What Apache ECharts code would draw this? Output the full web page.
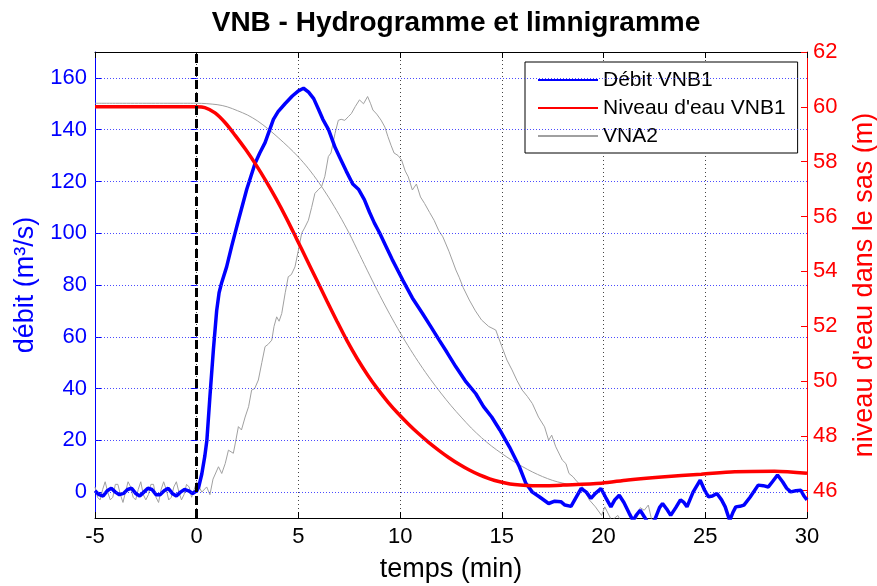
<!DOCTYPE html>
<html>
<head>
<meta charset="utf-8">
<script src="https://cdn.jsdelivr.net/npm/echarts@6/dist/echarts.min.js"></script>
<style>html,body{margin:0;padding:0;background:#fff;}#c{width:877px;height:586px;}</style>
</head>
<body>
<div id="c"></div>
<script>
// ---- Data ----
const titleText = 'VNB - Hydrogramme et limnigramme';
const xTicks = [-5, 0, 5, 10, 15, 20, 25, 30];
const leftTicks = [0, 20, 40, 60, 80, 100, 120, 140, 160];
const rightTicks = [46, 48, 50, 52, 54, 56, 58, 60, 62];
const eventTime = 0;

// Débit VNB1 (m3/s)
const debitT = [-5,-4.8,-4.6,-4.4,-4.2,-4,-3.8,-3.6,-3.4,-3.2,-3,-2.8,-2.6,-2.4,-2.2,-2,-1.8,-1.6,-1.4,-1.2,-1,-0.8,-0.6,-0.4,-0.2,0,
  0.1,0.25,0.4,0.5,0.65,0.82,0.98,1.1,1.23,1.47,1.72,2.05,2.46,2.87,3.1,3.36,3.77,4.0,4.34,4.7,5.0,5.25,5.5,5.75,5.98,6.2,6.48,6.81,7.05,7.35,7.67,7.95,8.24,8.5,8.73,9.0,9.3,9.6,10.12,10.6,11.1,11.5,11.92,12.3,12.74,13.2,13.72,14.1,14.5,14.9,15.37,15.86,16.18,16.5,16.84,17.3,17.6,17.9,18.1,18.4,18.65,18.9,19.15,19.38,19.6,19.87,20.1,20.36,20.55,20.77,21.0,21.26,21.45,21.6,21.8,22.0,22.2,22.5,22.75,22.9,23.1,23.3,23.55,23.78,23.95,24.1,24.4,24.75,24.95,25.16,25.35,25.57,25.8,25.98,26.2,26.35,26.5,26.7,26.9,27.2,27.6,27.85,28.1,28.3,28.55,28.8,29.0,29.2,29.45,29.7,29.85,30];
const debitV = [0.5,-1,-1.5,0.5,1.5,0,-1,-0.5,1,1.5,-0.5,-1.5,0,1.5,1,-1,-1,0.5,1.5,-0.5,-1.5,0,1,0.5,-0.5,0.5,
  2,7,14,20,37,55,70,77,81,87,95,105,117,127,131,135,144,147,150,153,155,156,154.5,152,148,144,140,133,129,124,119,117,113,108,104,100,95,90,82,75,69,64,58.7,54,48.4,43,38,33,29,24,17.5,9.8,3.4,0,-1.8,-4.4,-3.5,-3.7,-5,-5.5,-2,1.4,0,-2.4,-0.5,1.4,-2,-5.7,-3,-1.2,-4,-8.2,-11,-9,-7,-9.5,-12,-11,-6,-4.4,-6.5,-9,-6,-3,-4,-5.7,0,4.6,1,-1.8,-1.5,-0.5,-3,-5.7,-11,-8,-5.7,-5.5,-5,-2,2.7,2.5,2,4,6.6,4,1.5,0.1,0.5,0.7,-1.5,-3];

// Niveau d'eau VNB1 (m)
const niveauT = [-5,0,0.4,0.9,1.4,1.9,2.4,2.9,3.4,3.9,4.4,4.9,5.4,5.9,6.4,6.9,7.4,7.9,8.4,8.9,9.4,9.9,10.4,10.9,11.4,11.9,12.4,12.9,13.4,13.9,14.4,14.9,15.4,15.9,16.5,17.2,18.0,19.9,21.2,22.85,24.8,26.45,28.4,30];
const niveauV = [60,60,59.97,59.78,59.42,58.95,58.45,57.9,57.3,56.65,55.95,55.2,54.44,53.68,52.92,52.17,51.45,50.8,50.22,49.7,49.23,48.81,48.43,48.08,47.76,47.47,47.2,46.96,46.75,46.57,46.43,46.32,46.24,46.2,46.18,46.18,46.2,46.27,46.39,46.5,46.6,46.69,46.71,46.63];

// VNA2 débit (m3/s)
const vna2QT = [-5,-4.875,-4.75,-4.625,-4.5,-4.375,-4.25,-4.125,-4,-3.875,-3.75,-3.625,-3.5,-3.375,-3.25,-3.125,-3,-2.875,-2.75,-2.625,-2.5,-2.375,-2.25,-2.125,-2,-1.875,-1.75,-1.625,-1.5,-1.375,-1.25,-1.125,-1,-0.875,-0.75,-0.625,-0.5,-0.375,-0.25,-0.125,0,
  0.25,0.49,0.65,0.8,1.07,1.23,1.4,1.56,1.8,1.9,2.05,2.2,2.38,2.55,2.7,2.85,3.03,3.2,3.36,3.5,3.69,3.8,3.93,4.05,4.18,4.35,4.5,4.65,4.83,5.0,5.16,5.3,5.49,5.65,5.81,6.0,6.14,6.3,6.47,6.6,6.8,6.96,7.1,7.28,7.45,7.6,7.8,8.0,8.2,8.4,8.55,8.66,8.85,9.06,9.25,9.4,9.55,9.7,9.9,10.07,10.25,10.4,10.6,10.8,11.0,11.2,11.45,11.67,11.9,12.1,12.4,12.74,12.9,13.1,13.4,13.7,14.0,14.35,14.7,15.0,15.25,15.5,15.75,16.0,16.25,16.5,16.8,17.1,17.3,17.45,17.65,17.97,18.15,18.3,18.5,18.7,18.97,19.3,19.6,19.9,20.06,20.4,20.7,20.9,21.2,21.5,21.8,22.0,22.2,22.4,22.8,23.5,25,27,30];
const vna2Q = [2,-2,-3,1,4,0,-3,-2,3,3,-1,-4,0,4,2,-2,-3,1,4,-1,-3,-1,3,3,-2,-4,1,4,1,-3,-2,2,4,0,-3,-1,3,2,-2,1,4,
  0,2,-1,5,9.8,7.2,11,16.2,15,19,25.3,24,29,33,39.4,40,43.3,50,56.2,57,58.7,64,67.7,66,69,77,83.2,84,87,93.5,100,102,105,110,115.4,117,118,122,129.6,131,138.6,143.6,144,143.6,145,146.2,149,151.5,150,152.8,150,147.6,146,143.7,141,137.3,134,131,130,128.3,124,121.8,116.7,119,114,111.5,108,105,101,98.6,93,85.8,83,79,74.2,70,66.5,64,62.6,56.2,51,47.2,43,39.4,37,34.2,29,25.2,20,22,17.5,12.4,11,7.2,5.9,4,2,-3,-5.7,-9,-5.7,-11,-9,-12,-10.5,-13,-6,-7,-5,-12,-16,-18,-20,-19,-20];

// VNA2 niveau (m)
const vna2LT = [-5,0,1,1.5,2,2.5,3,3.5,4,4.5,5,5.5,6,6.5,7,7.5,8,8.5,9,9.5,10,10.5,11,11.5,12,12.5,13,13.5,14,14.5,15,15.5,16,16.5,17,17.5,18,18.5,19];
const vna2L = [60.13,60.13,60.08,60.0,59.86,59.7,59.48,59.2,58.88,58.54,58.17,57.74,57.24,56.68,56.06,55.38,54.62,53.86,53.12,52.42,51.76,51.15,50.58,50.05,49.56,49.1,48.68,48.28,47.93,47.62,47.35,47.1,46.88,46.68,46.51,46.37,46.27,46.21,46.19];

const zip = (t, v) => t.map((x, i) => [x, v[i]]);

const FONT = "'Liberation Sans', Arial, Helvetica, sans-serif";
const BLUE = '#0000ff', RED = '#ff0000', GRAY = '#a0a0a0';

const chart = echarts.init(document.getElementById('c'), null, {renderer: 'canvas'});
chart.setOption({
  animation: false,
  backgroundColor: '#fff',
  textStyle: {fontFamily: FONT},
  title: {
    text: titleText, left: 451, top: 4, textAlign: 'center',
    textStyle: {fontFamily: FONT, fontSize: 28, fontWeight: 'bold', color: '#000'}
  },
  legend: {
    data: ['Débit VNB1', "Niveau d'eau VNB1", 'VNA2'],
    orient: 'vertical', left: 525, top: 62,
    itemWidth: 60, itemHeight: 14, itemGap: 6,
    padding: [7, 12, 6, 12],
    backgroundColor: '#fff', borderColor: '#000', borderWidth: 1,
    itemStyle: {opacity: 0},
    textStyle: {fontFamily: FONT, fontSize: 21, lineHeight: 22, color: '#000'},
    selectedMode: false
  },
  grid: {left: 95, right: 70, top: 52, bottom: 68, containLabel: false, outerBoundsMode: 'none'},
  xAxis: [{
    type: 'value', min: -5, max: 30, interval: 5,
    name: 'temps (min)', nameLocation: 'middle', nameGap: 38,
    nameTextStyle: {fontFamily: FONT, fontSize: 27, color: '#000'},
    axisLine: {show: true, onZero: false, lineStyle: {color: '#000', width: 1}},
    axisTick: {show: true, inside: true, length: 6, lineStyle: {color: '#000'}},
    axisLabel: {fontFamily: FONT, fontSize: 22, color: '#000', margin: 8},
    splitLine: {show: true, lineStyle: {color: '#444', width: 1, type: [1, 3]}}
  }, {
    type: 'value', position: 'top', min: -5, max: 30, interval: 5,
    axisLine: {show: true, onZero: false, lineStyle: {color: '#000', width: 1}},
    axisTick: {show: true, inside: true, length: 6, lineStyle: {color: '#000'}},
    axisLabel: {show: false}, splitLine: {show: false}
  }],
  yAxis: [{
    type: 'value', position: 'left', min: -10, max: 170,
    name: 'débit (m³/s)', nameLocation: 'middle', nameGap: 52, nameRotate: 90,
    nameTextStyle: {fontFamily: FONT, fontSize: 27, color: BLUE},
    axisLine: {show: true, onZero: false, lineStyle: {color: BLUE, width: 1}},
    axisTick: {show: true, inside: true, length: 6, customValues: leftTicks, lineStyle: {color: BLUE}},
    axisLabel: {fontFamily: FONT, fontSize: 22, color: BLUE, margin: 8, customValues: leftTicks},
    splitLine: {show: false}
  }, {
    type: 'value', position: 'right', min: 45, max: 62,
    name: "niveau d'eau dans le sas (m)", nameLocation: 'middle', nameGap: 44, nameRotate: 90,
    nameTextStyle: {fontFamily: FONT, fontSize: 27, color: RED},
    axisLine: {show: true, onZero: false, lineStyle: {color: RED, width: 1}},
    axisTick: {show: true, inside: true, length: 6, customValues: rightTicks, lineStyle: {color: RED}},
    axisLabel: {fontFamily: FONT, fontSize: 22, color: RED, margin: 6, customValues: rightTicks},
    splitLine: {show: false}
  }, {
    type: 'value', position: 'right', min: -10, max: 170,
    axisLine: {show: false},
    axisTick: {show: true, inside: true, length: 6, customValues: leftTicks, lineStyle: {color: BLUE}},
    axisLabel: {show: false},
    splitLine: {show: false}
  }],
  series: [{
    name: 'grid', type: 'line', data: [], xAxisIndex: 0, yAxisIndex: 0, z: 1, silent: true,
    color: '#2b2bff',
    markLine: {
      silent: true, symbol: ['none', 'none'], label: {show: false},
      lineStyle: {color: '#2b2bff', width: 1, type: [1, 2], opacity: 0.85},
      emphasis: {disabled: true},
      data: leftTicks.map(v => ({yAxis: v, lineStyle: {color: '#2b2bff'}}))
    }
  }, {
    name: 'VNA2', type: 'line', xAxisIndex: 0, yAxisIndex: 0, z: 2,
    data: zip(vna2QT, vna2Q), showSymbol: false, symbol: 'none',
    lineStyle: {color: GRAY, width: 1}, itemStyle: {color: GRAY}
  }, {
    name: 'VNA2', type: 'line', xAxisIndex: 0, yAxisIndex: 1, z: 2, smooth: 0.3,
    data: zip(vna2LT, vna2L), showSymbol: false, symbol: 'none',
    lineStyle: {color: GRAY, width: 1}, itemStyle: {color: GRAY}
  }, {
    name: 'Débit VNB1', type: 'line', xAxisIndex: 0, yAxisIndex: 0, z: 3,
    data: zip(debitT, debitV), showSymbol: false, symbol: 'none',
    lineStyle: {color: BLUE, width: 3.5}, itemStyle: {color: BLUE}
  }, {
    name: "Niveau d'eau VNB1", type: 'line', xAxisIndex: 0, yAxisIndex: 1, z: 4, smooth: 0.3,
    data: zip(niveauT, niveauV), showSymbol: false, symbol: 'none',
    lineStyle: {color: RED, width: 3.5}, itemStyle: {color: RED}
  }, {
    name: 'event', type: 'line', data: [], xAxisIndex: 0, yAxisIndex: 0, z: 6, silent: true,
    markLine: {
      silent: true, symbol: ['none', 'none'], label: {show: false},
      lineStyle: {color: '#000', width: 3, type: [9, 4]},
      emphasis: {disabled: true},
      data: [{xAxis: eventTime}]
    }
  }]
});
</script>
</body>
</html>
